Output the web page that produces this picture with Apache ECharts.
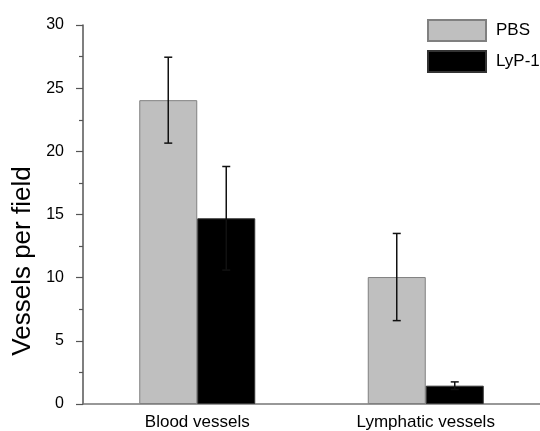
<!DOCTYPE html>
<html>
<head>
<meta charset="utf-8">
<script src="https://cdn.jsdelivr.net/npm/echarts@6/dist/echarts.min.js"></script>
<style>html,body{margin:0;padding:0;background:#fff}#c{width:540px;height:431px}</style>
</head>
<body>
<div id="c"></div>
<script>
var categories = ['Blood vessels', 'Lymphatic vessels'];
var pbsValues = [24.05, 10.05];
var pbsErrors = [3.4, 3.45];
var lypValues = [14.7, 1.45];
var lypErrors = [4.1, 0.3];
var yTicks = [0, 5, 10, 15, 20, 25, 30];
var yTitle = 'Vessels per field';

var FONT = '"Liberation Sans", Arial, Helvetica, sans-serif';
var BAR_W = 58;
var chart = echarts.init(document.getElementById('c'), null, {renderer: 'canvas'});

function errSeries(name, vals, errs, offset, color) {
  return {
    type: 'custom',
    name: name + '_err',
    z: 10,
    silent: true,
    data: vals.map(function (v, i) { return [i, v - errs[i], v + errs[i]]; }),
    renderItem: function (params, api) {
      var lo = api.coord([api.value(0), api.value(1)]);
      var hi = api.coord([api.value(0), api.value(2)]);
      var x = lo[0] + offset;
      var cap = 4;
      var st = {stroke: color, lineWidth: 1.5};
      return {
        type: 'group',
        children: [
          {type: 'line', shape: {x1: x, y1: lo[1], x2: x, y2: hi[1]}, style: st},
          {type: 'line', shape: {x1: x - cap, y1: lo[1], x2: x + cap, y2: lo[1]}, style: st},
          {type: 'line', shape: {x1: x - cap, y1: hi[1], x2: x + cap, y2: hi[1]}, style: st}
        ]
      };
    }
  };
}

chart.setOption({
  animation: false,
  backgroundColor: '#fff',
  grid: {left: 83, top: 25, width: 466, height: 380, containLabel: false},
  legend: {
    orient: 'vertical',
    left: 427, top: 19,
    icon: 'rect',
    itemWidth: 58, itemHeight: 21, itemGap: 8,
    data: ['PBS', 'LyP-1'],
    textStyle: {fontFamily: FONT, fontSize: 17, color: '#000', padding: [0, 0, 0, 5]},
    padding: 0
  },
  graphic: [{
    type: 'text',
    x: 23, y: 261,
    rotation: Math.PI / 2,
    style: {text: yTitle, fontFamily: FONT, fontSize: 26, fill: '#000', align: 'center', verticalAlign: 'middle'}
  }],
  xAxis: {
    type: 'category',
    data: categories,
    axisLine: {lineStyle: {color: '#777', width: 1.5}},
    axisTick: {show: false},
    axisLabel: {fontFamily: FONT, fontSize: 17, color: '#000', margin: 10}
  },
  yAxis: {
    type: 'value',
    min: yTicks[0], max: yTicks[yTicks.length - 1], interval: 5,
    axisLine: {show: true, lineStyle: {color: '#555', width: 1.5}},
    axisTick: {show: true, length: 7, lineStyle: {color: '#555', width: 1.2}},
    minorTick: {show: true, splitNumber: 2, length: 4, lineStyle: {color: '#555', width: 1.2}},
    splitLine: {show: false},
    axisLabel: {fontFamily: FONT, fontSize: 16, color: '#000', margin: 19}
  },
  series: [
    {
      name: 'PBS', type: 'bar', data: pbsValues, barWidth: BAR_W, barGap: '0%',
      itemStyle: {color: '#bfbfbf', borderColor: '#808080', borderWidth: 1}
    },
    {
      name: 'LyP-1', type: 'bar', data: lypValues, barWidth: BAR_W, barGap: '0%',
      itemStyle: {color: '#000', borderColor: '#333', borderWidth: 1}
    },
    errSeries('PBS', pbsValues, pbsErrors, -BAR_W / 2, '#111'),
    errSeries('LyP-1', lypValues, lypErrors, BAR_W / 2, '#111')
  ]
});
</script>
</body>
</html>
